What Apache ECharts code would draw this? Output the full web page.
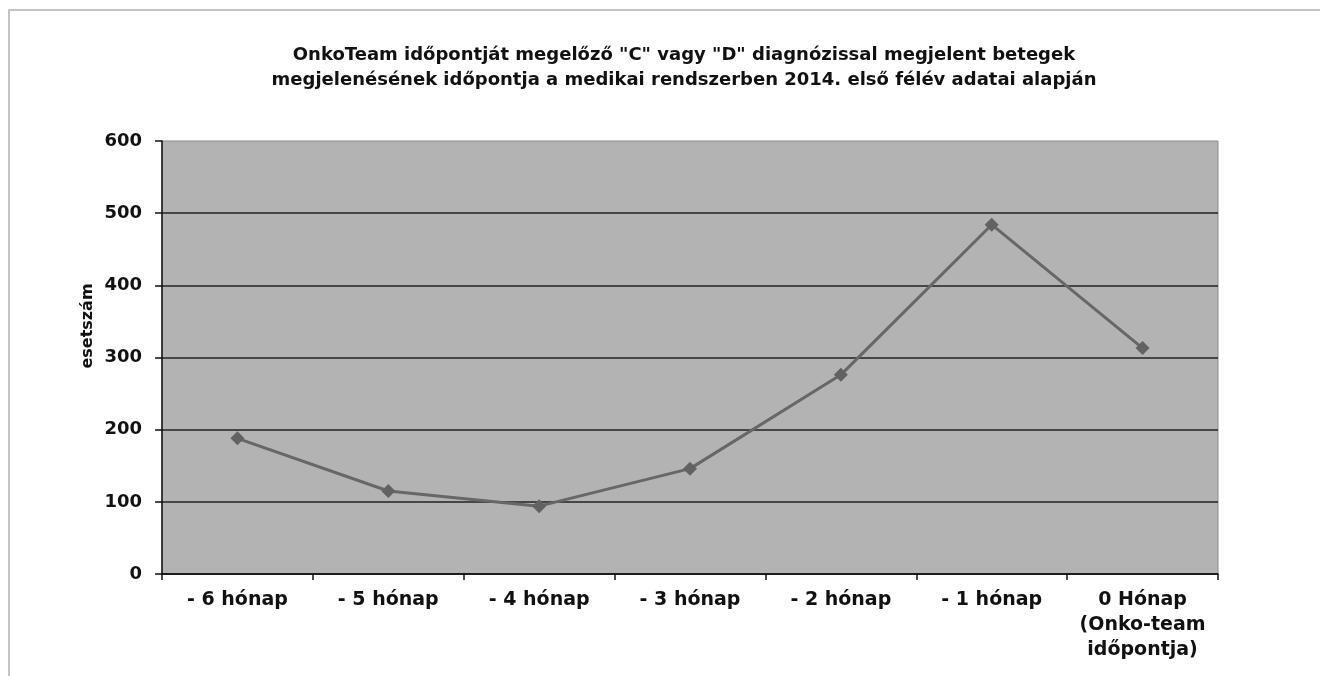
<!DOCTYPE html>
<html>
<head>
<meta charset="utf-8">
<script src="https://cdn.jsdelivr.net/npm/echarts@6/dist/echarts.min.js"></script>
<style>
  html, body { margin: 0; padding: 0; background: #fff; }
  #chart { width: 1320px; height: 676px; }
</style>
</head>
<body>
<div id="chart"></div>
<script>
  const categories = ['- 6 hónap', '- 5 hónap', '- 4 hónap', '- 3 hónap', '- 2 hónap', '- 1 hónap', '0 Hónap\n(Onko-team\nidőpontja)'];
  const caseCounts = [188, 115, 94, 146, 276, 484, 313];
  const titleLines = [
    'OnkoTeam időpontját megelőző "C" vagy "D" diagnózissal megjelent betegek',
    'megjelenésének időpontja a medikai rendszerben 2014. első félév adatai alapján'
  ];
  const yAxisName = 'esetszám';

  const font = 'DejaVu Sans';
  const chart = echarts.init(document.getElementById('chart'));

  const option = {
    backgroundColor: '#fff',
    animation: false,
    title: {
      text: titleLines.join('\n'),
      left: 679,
      textAlign: 'center',
      top: 38,
      textStyle: {
        fontFamily: font,
        fontWeight: 'bold',
        fontSize: 18,
        lineHeight: 25,
        color: '#111'
      }
    },
    graphic: [
      {
        // light frame at the edge of the picture
        type: 'polyline',
        shape: { points: [[9, 676], [9, 10], [1320, 10]] },
        style: { stroke: '#c4c4c4', lineWidth: 2, fill: null }
      },
      {
        type: 'text',
        x: 88,
        y: 326,
        rotation: Math.PI / 2,
        style: {
          text: yAxisName,
          fontFamily: font,
          fontWeight: 'bold',
          fontSize: 16,
          fill: '#111',
          align: 'center',
          verticalAlign: 'middle'
        }
      }
    ],
    grid: {
      left: 162,
      right: 102,
      top: 141,
      bottom: 102,
      show: true,
      backgroundColor: '#b3b3b3',
      borderColor: '#8a8a8a',
      borderWidth: 1
    },
    xAxis: {
      type: 'category',
      data: categories,
      boundaryGap: true,
      axisLine: { lineStyle: { color: '#111', width: 1.5 } },
      axisTick: { show: true, length: 6, lineStyle: { color: '#111', width: 1.5 } },
      axisLabel: {
        interval: 0,
        margin: 14,
        fontFamily: font,
        fontWeight: 'bold',
        fontSize: 19,
        lineHeight: 25,
        color: '#111'
      },
      splitLine: { show: false }
    },
    yAxis: {
      type: 'value',
      min: 0,
      max: 600,
      interval: 100,
      axisLine: { show: true, lineStyle: { color: '#111', width: 1.5 } },
      axisTick: { show: true, length: 7, lineStyle: { color: '#111', width: 1.5 } },
      axisLabel: {
        margin: 20,
        fontFamily: font,
        fontWeight: 'bold',
        fontSize: 18,
        color: '#111'
      },
      splitLine: {
        show: true,
        showMaxLine: false,
        lineStyle: { color: '#222', width: 1.5 }
      }
    },
    series: [
      {
        type: 'line',
        data: caseCounts,
        symbol: 'diamond',
        symbolSize: 14,
        lineStyle: { color: '#676767', width: 3 },
        itemStyle: { color: '#626262' }
      }
    ]
  };

  chart.setOption(option);
</script>
</body>
</html>
